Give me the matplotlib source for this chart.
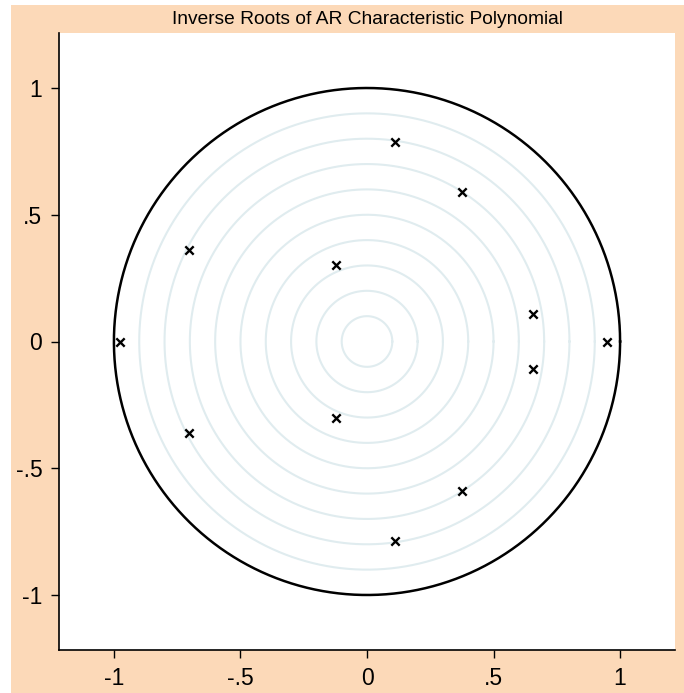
import numpy as np
import matplotlib.pyplot as plt

root_re = [-0.976, -0.704, -0.704, -0.123, -0.123, 0.111, 0.111,
           0.375, 0.375, 0.656, 0.656, 0.949]
root_im = [0.0, 0.359, -0.359, 0.302, -0.302, 0.787, -0.787,
           0.588, -0.588, 0.108, -0.108, 0.0]

ticks = [-1, -0.5, 0, 0.5, 1]
tick_labels = ['-1', '-.5', '0', '.5', '1']
grid_radii = [0.1, 0.2, 0.3, 0.4, 0.5, 0.6, 0.7, 0.8, 0.9]

peach = '#fcd9b8'
plt.rcParams['font.family'] = ['Liberation Sans', 'DejaVu Sans']

fig = plt.figure(figsize=(6.84, 6.93), dpi=100)
fig.patch.set_facecolor('white')
# peach background band (starts a few px in from left/top)
bg = fig.add_axes([11 / 684, 0, 1 - 11 / 684, 1 - 5 / 693])
bg.set_facecolor(peach)
bg.set_xticks([])
bg.set_yticks([])
for s in bg.spines.values():
    s.set_visible(False)

ax = fig.add_axes([59 / 684, 43 / 693, 616 / 684, 617 / 693])
ax.set_facecolor('white')

t = np.linspace(0, 2 * np.pi, 400)
for r in grid_radii:
    ax.plot(r * np.cos(t), r * np.sin(t), color='#e0ecef', lw=1.5, zorder=1)
ax.plot(np.cos(t), np.sin(t), color='black', lw=1.8, zorder=2)

ax.scatter(root_re, root_im, marker='x', color='black', s=36, linewidths=1.7, zorder=3)

lim = 1.217
ax.set_xlim(-lim, lim)
ax.set_ylim(-lim, lim)
ax.set_xticks(ticks)
ax.set_xticklabels(tick_labels)
ax.set_yticks(ticks)
ax.set_yticklabels(tick_labels)
ax.tick_params(direction='out', length=6, width=1, labelsize=16.5, pad=6)
ax.spines['top'].set_visible(False)
ax.spines['right'].set_visible(False)
ax.spines['left'].set_linewidth(1.2)
ax.spines['bottom'].set_linewidth(1.2)

fig.text(367 / 684, 1 - 19 / 693, 'Inverse Roots of AR Characteristic Polynomial',
         ha='center', va='center', fontsize=13.8)

fig.savefig('out.png', dpi=100, facecolor=fig.get_facecolor())
